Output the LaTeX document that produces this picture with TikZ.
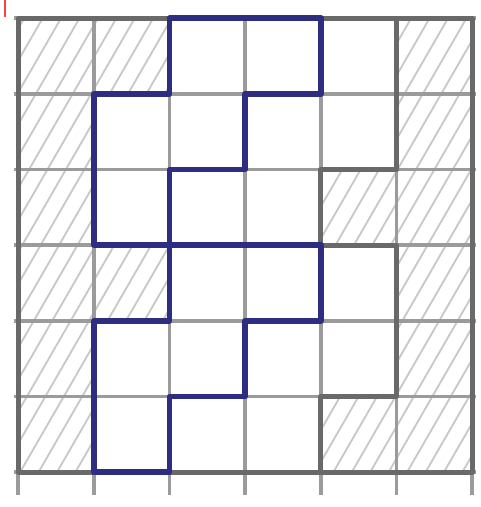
\documentclass[tikz,border=0pt]{standalone}
\usepackage{tikz}
\usetikzlibrary{patterns.meta}

\definecolor{penblue}{RGB}{45,45,130}
\definecolor{pencil}{RGB}{155,155,155}
\definecolor{pencildark}{RGB}{105,105,105}

\begin{document}
\begin{tikzpicture}[
  x=1cm, y=1cm,
  gridline/.style={draw=pencil, line width=1.3pt},
  hatchcell/.style={pattern={Lines[angle=60, distance=6pt, line width=0.7pt]},
                    pattern color=pencil!55},
  outline/.style={draw=pencildark, line width=1.9pt, line join=round},
  blueline/.style={draw=penblue, line width=2.2pt, line join=round},
  redmark/.style={draw=red!75, line width=0.7pt}
]
\useasboundingbox (-0.24,-0.46) rectangle (6.11,6.24);

% hatched cells (column/row counted from the top left)
\foreach \c/\r in {0/0,1/0,5/0,0/1,5/1,0/2,4/2,5/2,0/3,1/3,5/3,0/4,5/4,0/5,4/5,5/5}
  \fill[hatchcell] (\c,5-\r) rectangle ++(1,1);

% grid
\foreach \i in {0,...,6} {
  \draw[gridline] (\i,-0.3) -- (\i,6.03);
  \draw[gridline] (-0.05,\i) -- (6.05,\i);
}

% darker pencil: border and the two white regions
\draw[outline] (0,0) rectangle (6,6);
\draw[outline] (5,6) -- (5,4) -- (4,4) -- (4,3);
\draw[outline] (4,3) -- (5,3) -- (5,1) -- (4,1) -- (4,0);

% blue pieces
\draw[blueline] (2,6) -- (4,6) -- (4,5) -- (3,5) -- (3,4) -- (2,4)
  -- (2,3) -- (1,3) -- (1,5) -- (2,5) -- cycle;
\draw[blueline] (2,3) -- (4,3) -- (4,2) -- (3,2) -- (3,1) -- (2,1)
  -- (2,0) -- (1,0) -- (1,2) -- (2,2) -- cycle;

% stray red stroke
\draw[redmark] (-0.17,6.24) -- (-0.17,6.02);

\end{tikzpicture}
\end{document}
